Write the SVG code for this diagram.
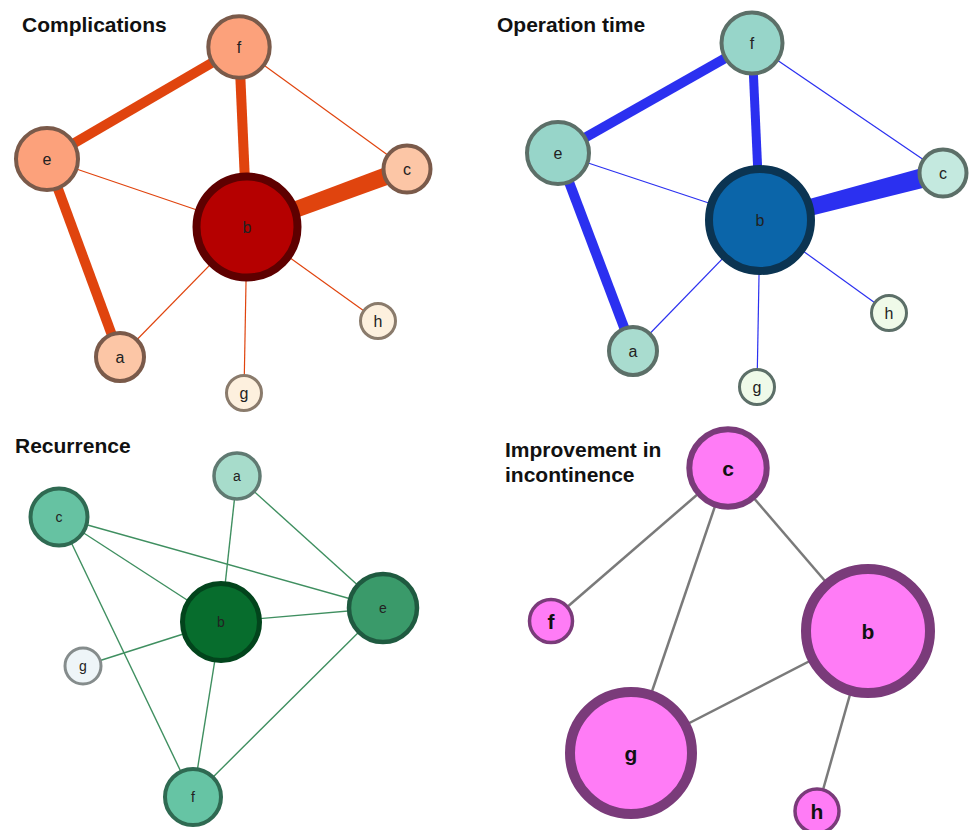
<svg xmlns="http://www.w3.org/2000/svg" width="971" height="830" viewBox="0 0 971 830">
<style>
.title{font-family:"Liberation Sans",Arial,sans-serif;font-weight:bold;font-size:21px;fill:#111}
.lbl{font-family:"Liberation Sans",Arial,sans-serif;font-size:16px;fill:#222;text-anchor:middle;dominant-baseline:central}
.lbl3{font-family:"Liberation Sans",Arial,sans-serif;font-size:14px;fill:#222;text-anchor:middle;dominant-baseline:central}
.lbl4{font-family:"Liberation Sans",Arial,sans-serif;font-size:21px;font-weight:bold;fill:#111;text-anchor:middle;dominant-baseline:central}
.e1{stroke:#e0440e;stroke-linecap:butt}
.e2{stroke:#2b30f0;stroke-linecap:butt}
.e3{stroke:#3f8f60;stroke-width:1.4}
.e4{stroke:#7a7a7a;stroke-width:2.5}
.n1{stroke:#7a5a4a;stroke-width:4}
.n1s{stroke:#8a7b6c;stroke-width:3;fill:#fdf0de}
.n2{stroke:#5c6f68;stroke-width:4}
.n2s{stroke:#5c6f68;stroke-width:3;fill:#effae9}
.n4{fill:#ff7cf6;stroke:#7a3b7a}
</style>
<rect width="971" height="830" fill="#fff"/>

<text class="title" x="22" y="32">Complications</text>
<text class="title" x="497" y="32">Operation time</text>
<text class="title" x="15" y="453">Recurrence</text>
<text class="title" x="505" y="457">Improvement in</text>
<text class="title" x="505" y="482">incontinence</text>

<g id="connectors">
  <!-- panel 1 -->
  <line class="e1" x1="47" y1="159" x2="239" y2="47" stroke-width="10"/>
  <line class="e1" x1="239" y1="47" x2="247" y2="227" stroke-width="10"/>
  <polygon fill="#e0440e" points="245,220 249,235 407,178 404,160"/>
  <line class="e1" x1="47" y1="159" x2="120" y2="357" stroke-width="10"/>
  <line class="e1" x1="47" y1="159" x2="247" y2="227" stroke-width="1.2"/>
  <line class="e1" x1="239" y1="47" x2="407" y2="169" stroke-width="1.2"/>
  <line class="e1" x1="247" y1="227" x2="120" y2="357" stroke-width="1.2"/>
  <line class="e1" x1="247" y1="227" x2="244" y2="393" stroke-width="1.2"/>
  <line class="e1" x1="247" y1="227" x2="378" y2="321" stroke-width="1.2"/>
  <!-- panel 2 -->
  <line class="e2" x1="558" y1="153" x2="752" y2="43" stroke-width="10"/>
  <line class="e2" x1="752" y1="43" x2="760" y2="220" stroke-width="9"/>
  <polygon fill="#2b30f0" points="758,213 762,228 943,183 940,163"/>
  <line class="e2" x1="558" y1="153" x2="633" y2="351" stroke-width="10"/>
  <line class="e2" x1="558" y1="153" x2="760" y2="220" stroke-width="1.2"/>
  <line class="e2" x1="752" y1="43" x2="943" y2="173" stroke-width="1.2"/>
  <line class="e2" x1="760" y1="220" x2="633" y2="351" stroke-width="1.2"/>
  <line class="e2" x1="760" y1="220" x2="757" y2="387" stroke-width="1.2"/>
  <line class="e2" x1="760" y1="220" x2="889" y2="313" stroke-width="1.2"/>
  <!-- panel 3 -->
  <line class="e3" x1="59" y1="517" x2="221" y2="622"/>
  <line class="e3" x1="59" y1="517" x2="383" y2="608"/>
  <line class="e3" x1="59" y1="517" x2="193" y2="797"/>
  <line class="e3" x1="237" y1="476" x2="221" y2="622"/>
  <line class="e3" x1="237" y1="476" x2="383" y2="608"/>
  <line class="e3" x1="221" y1="622" x2="383" y2="608"/>
  <line class="e3" x1="221" y1="622" x2="83" y2="666"/>
  <line class="e3" x1="221" y1="622" x2="193" y2="797"/>
  <line class="e3" x1="383" y1="608" x2="193" y2="797"/>
  <!-- panel 4 -->
  <line class="e4" x1="728" y1="468" x2="551" y2="621"/>
  <line class="e4" x1="728" y1="468" x2="631" y2="753"/>
  <line class="e4" x1="728" y1="468" x2="868" y2="631"/>
  <line class="e4" x1="868" y1="631" x2="631" y2="753"/>
  <line class="e4" x1="868" y1="631" x2="817" y2="811"/>
</g>

<!-- panel 1 nodes -->
<g id="p1-f"><circle class="n1" cx="239" cy="47" r="30.7" fill="#fca17b"/><text class="lbl" x="239" y="47">f</text></g>
<g id="p1-e"><circle class="n1" cx="47" cy="159" r="31" fill="#fca17b"/><text class="lbl" x="47" y="159">e</text></g>
<g id="p1-c"><circle class="n1" cx="407" cy="169" r="23.5" fill="#fcc6a6"/><text class="lbl" x="407" y="169">c</text></g>
<g id="p1-b"><circle cx="247" cy="227" r="50.5" fill="#b50000" stroke="#5e0000" stroke-width="8"/><text class="lbl" x="247" y="227">b</text></g>
<g id="p1-h"><circle class="n1s" cx="378" cy="321" r="17.5"/><text class="lbl" x="378" y="321">h</text></g>
<g id="p1-g"><circle class="n1s" cx="244" cy="393" r="17.5"/><text class="lbl" x="244" y="393">g</text></g>
<g id="p1-a"><circle class="n1" cx="120" cy="357" r="24" fill="#fcc6a6"/><text class="lbl" x="120" y="357">a</text></g>

<!-- panel 2 nodes -->
<g id="p2-f"><circle class="n2" cx="752" cy="43" r="30.5" fill="#97d5c9"/><text class="lbl" x="752" y="43">f</text></g>
<g id="p2-e"><circle class="n2" cx="558" cy="153" r="31" fill="#97d5c9"/><text class="lbl" x="558" y="153">e</text></g>
<g id="p2-c"><circle class="n2" cx="943" cy="173" r="23.5" fill="#c4e9df"/><text class="lbl" x="943" y="173">c</text></g>
<g id="p2-b"><circle cx="760" cy="220" r="51" fill="#0b65a9" stroke="#0b3452" stroke-width="8"/><text class="lbl" x="760" y="220">b</text></g>
<g id="p2-h"><circle class="n2s" cx="889" cy="313" r="17.5"/><text class="lbl" x="889" y="313">h</text></g>
<g id="p2-g"><circle class="n2s" cx="757" cy="387" r="17.5"/><text class="lbl" x="757" y="387">g</text></g>
<g id="p2-a"><circle class="n2" cx="633" cy="351" r="24" fill="#a9dccf"/><text class="lbl" x="633" y="351">a</text></g>

<!-- panel 3 nodes -->
<g id="p3-a"><circle cx="237" cy="476" r="23" fill="#a7dccb" stroke="#607a72" stroke-width="3.5"/><text class="lbl3" x="237" y="476">a</text></g>
<g id="p3-c"><circle cx="59" cy="517" r="28.5" fill="#66c2a2" stroke="#2f6a52" stroke-width="4"/><text class="lbl3" x="59" y="517">c</text></g>
<g id="p3-e"><circle cx="383" cy="608" r="34" fill="#3a9a6a" stroke="#1f5a40" stroke-width="4.5"/><text class="lbl3" x="383" y="608">e</text></g>
<g id="p3-b"><circle cx="221" cy="622" r="38.5" fill="#076d2d" stroke="#02441c" stroke-width="5"/><text class="lbl3" x="221" y="622">b</text></g>
<g id="p3-g"><circle cx="83" cy="666" r="18" fill="#eef5f8" stroke="#858c8c" stroke-width="3"/><text class="lbl3" x="83" y="666">g</text></g>
<g id="p3-f"><circle cx="193" cy="797" r="28" fill="#66c4a4" stroke="#2f6a52" stroke-width="4"/><text class="lbl3" x="193" y="797">f</text></g>

<!-- panel 4 nodes -->
<g id="p4-c"><circle class="n4" cx="728" cy="468" r="38.7" stroke-width="6"/><text class="lbl4" x="728" y="468">c</text></g>
<g id="p4-f"><circle class="n4" cx="551" cy="621" r="21.5" stroke-width="3.5"/><text class="lbl4" x="551" y="621">f</text></g>
<g id="p4-b"><circle class="n4" cx="868" cy="631" r="62" stroke-width="10"/><text class="lbl4" x="868" y="631">b</text></g>
<g id="p4-g"><circle class="n4" cx="631" cy="753" r="61" stroke-width="10"/><text class="lbl4" x="631" y="753">g</text></g>
<g id="p4-h"><circle class="n4" cx="817" cy="811" r="22" stroke-width="3.5"/><text class="lbl4" x="817" y="811">h</text></g>
</svg>
